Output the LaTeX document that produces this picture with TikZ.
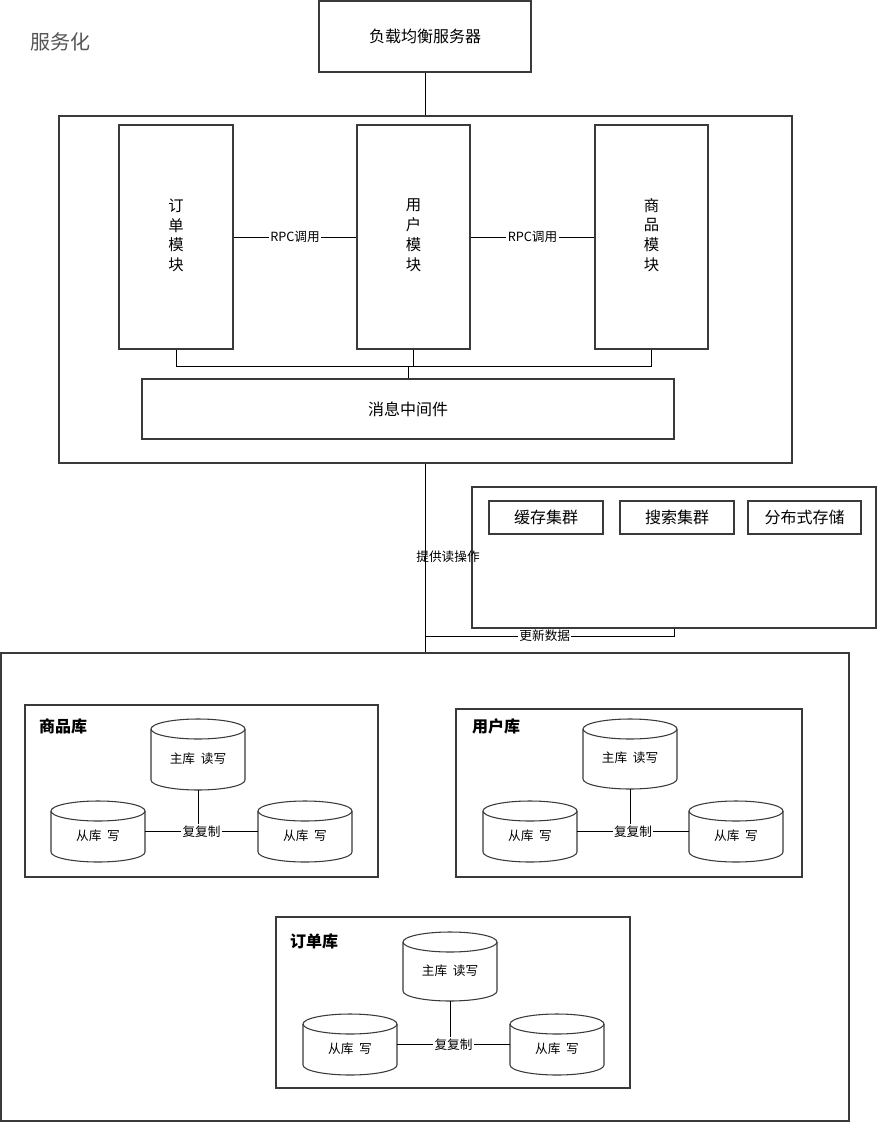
\documentclass[tikz,border=0pt]{standalone}
\usepackage{fontspec}
\setmainfont{Noto Sans CJK SC}
\definecolor{edge}{HTML}{3A3A3A}
\definecolor{titlegray}{HTML}{555555}
\tikzset{
  box/.style={draw=edge, line width=0.9pt, fill=white, inner sep=0pt},
  conn/.style={draw=black, line width=0.75pt},
  cylb/.style={draw=edge, line width=0.8pt},
  lbl/.style={inner sep=1pt, font=\fontsize{9.5}{11}\selectfont},
  wlbl/.style={lbl, fill=white},
  dbtxt/.style={inner sep=0pt, font=\fontsize{9.5}{11}\selectfont},
  grp/.style={inner sep=0pt, font=\bfseries\fontsize{12}{14}\selectfont}
}
\newcommand\pbox[6]{\node[box, minimum width={(#4-#2)*0.75pt}, minimum height={(#5-#3)*0.75pt}] (#1) at ({(#2+#4)/2},{(#3+#5)/2}) {#6};}
\newcommand\vtext[4]{\begin{tabular}{@{}c@{}}\fontsize{11.5}{14}\selectfont #1\\[1.6pt] \fontsize{11.5}{14}\selectfont #2\\[1.6pt] \fontsize{11.5}{14}\selectfont #3\\[1.6pt] \fontsize{11.5}{14}\selectfont #4\end{tabular}}
\newcommand\dbcyl[5]{%
  \draw[cylb, fill=white] ({#2-47},{#3+10}) -- ({#2-47},{#4-10}) arc[start angle=180,end angle=0,x radius=47,y radius=10] -- ({#2+47},{#3+10});
  \draw[cylb] (#2,{#3+10}) ellipse[x radius=47,y radius=10];
  \node[inner sep=0pt, outer sep=0pt, minimum width={94*0.75pt}, minimum height={(#4-#3)*0.75pt}] (#1) at (#2,{(#3+#4)/2}) {};
  \node[dbtxt] (#1t) at (#2,{(#3+#4)/2+4}) {#5};}
\begin{document}
\begin{tikzpicture}[x=0.75pt,y=-0.75pt]
\useasboundingbox (0,0) rectangle (877,1124);
\fill[white] (0,0) rectangle (877,1124);

\node[text=titlegray, font=\fontsize{15}{17}\selectfont, inner sep=0pt] (title) at (61,42) {服务化};

% top
\pbox{lb}{319}{1}{531}{72}{\fontsize{12}{14}\selectfont 负载均衡服务器}
\pbox{main}{59}{116}{792}{463}{}
\pbox{order}{119}{125}{233}{349}{\vtext{订}{单}{模}{块}}
\pbox{user}{357}{125}{470}{349}{\vtext{用}{户}{模}{块}}
\pbox{goods}{595}{125}{708}{349}{\vtext{商}{品}{模}{块}}
\pbox{mq}{142}{379}{674}{439}{\fontsize{12}{14}\selectfont 消息中间件}

\draw[conn] (lb.south) -- (lb.south |- main.north);
\draw[conn] (order.east) -- node[wlbl]{RPC调用} (user.west);
\draw[conn] (user.east) -- node[wlbl]{RPC调用} (goods.west);
\coordinate (busy) at (0,366);
\draw[conn] (order.south) -- (order.south |- busy) -- (goods.south |- busy) -- (goods.south);
\draw[conn] (user.south) -- (user.south |- busy);
\draw[conn] (mq.north) -- (mq.north |- busy);

% cache cluster
\pbox{cache}{472}{487}{876}{628}{}
\pbox{c1}{489}{501}{603}{534}{\fontsize{12}{14}\selectfont 缓存集群}
\pbox{c2}{620}{501}{734}{534}{\fontsize{12}{14}\selectfont 搜索集群}
\pbox{c3}{748}{501}{861}{534}{\fontsize{12}{14}\selectfont 分布式存储}

% databases
\pbox{dbs}{1}{653}{849}{1121}{}
\draw[conn] (main.south) -- (main.south |- dbs.north);
\node[lbl] (readlbl) at (448,557) {提供读操作};
\coordinate (updy) at (0,636);
\draw[conn] (cache.south) -- (cache.south |- updy) -- node[wlbl, pos=0.52]{更新数据} (main.south |- updy);

% 商品库
\pbox{g1}{25}{705}{378}{877}{}
\node[grp] (g1t) at (63,726) {商品库};
\dbcyl{g1m}{198}{719}{790}{主库\ \ 读写}
\dbcyl{g1l}{98}{801}{862}{从库\ \ 写}
\dbcyl{g1r}{305}{801}{862}{从库\ \ 写}
\draw[conn] (g1m.south) -- (g1m.south |- g1l.east);
\draw[conn] (g1l.east) -- node[wlbl]{复复制} (g1r.west);

% 用户库
\pbox{g2}{456}{709}{802}{877}{}
\node[grp] (g2t) at (496,726) {用户库};
\dbcyl{g2m}{630}{719}{789}{主库\ \ 读写}
\dbcyl{g2l}{530}{801}{862}{从库\ \ 写}
\dbcyl{g2r}{736}{801}{862}{从库\ \ 写}
\draw[conn] (g2m.south) -- (g2m.south |- g2l.east);
\draw[conn] (g2l.east) -- node[wlbl]{复复制} (g2r.west);

% 订单库
\pbox{g3}{276}{917}{630}{1088}{}
\node[grp] (g3t) at (314,941) {订单库};
\dbcyl{g3m}{450}{932}{1001}{主库\ \ 读写}
\dbcyl{g3l}{350}{1014}{1075}{从库\ \ 写}
\dbcyl{g3r}{557}{1014}{1075}{从库\ \ 写}
\draw[conn] (g3m.south) -- (g3m.south |- g3l.east);
\draw[conn] (g3l.east) -- node[wlbl]{复复制} (g3r.west);
\end{tikzpicture}
\end{document}
